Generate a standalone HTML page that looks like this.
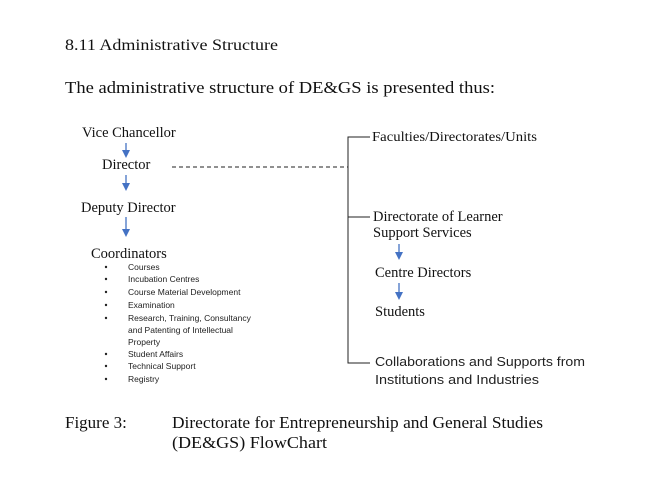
<!DOCTYPE html>
<html><head><meta charset="utf-8"><style>html,body{margin:0;padding:0;background:#fff;}svg{display:block}
.s{font-family:"Liberation Serif","Times New Roman",serif;}
.n{font-family:"Liberation Sans",Arial,sans-serif;}
</style></head>
<body>
<svg width="657" height="483" xmlns="http://www.w3.org/2000/svg">
<defs><marker id="a" markerWidth="8" markerHeight="8" refX="4" refY="4" orient="auto" markerUnits="userSpaceOnUse"><path d="M0,0 L8,4 L0,8 z" fill="#4472c4"/></marker></defs>
<g class="s" fill="#111">
<text x="65" y="50" font-size="16" textLength="213" lengthAdjust="spacingAndGlyphs">8.11  Administrative  Structure</text>
<text x="65" y="93" font-size="17" textLength="430" lengthAdjust="spacingAndGlyphs">The administrative structure of DE&amp;GS is presented thus:</text>
<text x="82" y="137" font-size="14.5">Vice Chancellor</text>
<text x="102" y="169" font-size="14.5">Director</text>
<text x="81" y="212" font-size="14.5">Deputy Director</text>
<text x="91" y="258" font-size="14.5">Coordinators</text>
<text x="372" y="141" font-size="14" textLength="165" lengthAdjust="spacingAndGlyphs">Faculties/Directorates/Units</text>
<text x="373" y="221" font-size="14.5">Directorate of Learner</text>
<text x="373" y="237" font-size="14.5">Support Services</text>
<text x="375" y="277" font-size="14.5">Centre Directors</text>
<text x="375" y="316" font-size="14.5">Students</text>
<text x="65" y="428" font-size="17">Figure 3:</text>
<text x="172" y="428" font-size="17" textLength="371" lengthAdjust="spacingAndGlyphs">Directorate for Entrepreneurship and General Studies</text>
<text x="172" y="448" font-size="17" textLength="155" lengthAdjust="spacingAndGlyphs">(DE&amp;GS) FlowChart</text>
</g>
<g class="n" fill="#222">
<text x="375" y="366" font-size="12.5" textLength="210" lengthAdjust="spacingAndGlyphs">Collaborations and Supports from</text>
<text x="375" y="384" font-size="12.5" textLength="164" lengthAdjust="spacingAndGlyphs">Institutions and Industries</text>
<g font-size="8.5">
<text x="128" y="270">Courses</text>
<text x="128" y="282">Incubation Centres</text>
<text x="128" y="295">Course Material Development</text>
<text x="128" y="308">Examination</text>
<text x="128" y="321">Research, Training, Consultancy</text>
<text x="128" y="333">and Patenting of Intellectual</text>
<text x="128" y="345">Property</text>
<text x="128" y="357">Student Affairs</text>
<text x="128" y="369">Technical Support</text>
<text x="128" y="382">Registry</text>
</g>
<g>
<circle cx="106" cy="267" r="1.2"/><circle cx="106" cy="279" r="1.2"/><circle cx="106" cy="292" r="1.2"/><circle cx="106" cy="305" r="1.2"/><circle cx="106" cy="318" r="1.2"/><circle cx="106" cy="354" r="1.2"/><circle cx="106" cy="366" r="1.2"/><circle cx="106" cy="379" r="1.2"/>
</g>
</g>
<g stroke="#4472c4" stroke-width="1.3">
<line x1="126" y1="143" x2="126" y2="154" marker-end="url(#a)"/>
<line x1="126" y1="175" x2="126" y2="187" marker-end="url(#a)"/>
<line x1="126" y1="217" x2="126" y2="233" marker-end="url(#a)"/>
<line x1="399" y1="244" x2="399" y2="256" marker-end="url(#a)"/>
<line x1="399" y1="283" x2="399" y2="296" marker-end="url(#a)"/>
</g>
<g stroke="#222" stroke-width="1" fill="none">
<line x1="172" y1="167" x2="348" y2="167" stroke-dasharray="4,3"/>
<polyline points="370,137 348,137 348,363 370,363"/>
<line x1="348" y1="217" x2="370" y2="217"/>
</g>
</svg>
</body></html>
